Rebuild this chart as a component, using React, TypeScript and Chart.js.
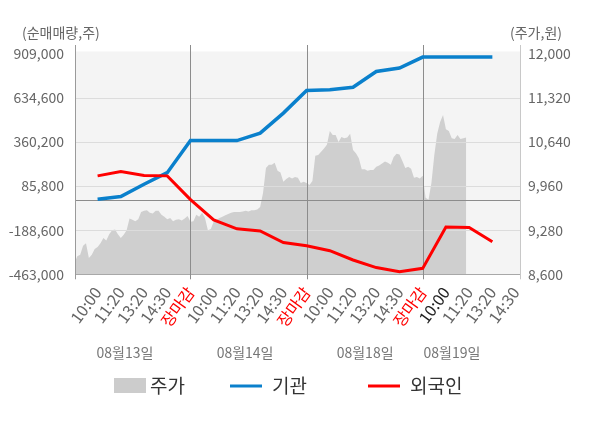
import React, { useEffect, useRef } from "react";
import { Chart, registerables } from "chart.js";

Chart.register(...registerables);

// ---- data ----
const timeLabels = [
  "10:00", "11:20", "13:20", "14:30", "장마감",
  "10:00", "11:20", "13:20", "14:30", "장마감",
  "10:00", "11:20", "13:20", "14:30", "장마감",
  "10:00", "11:20", "13:20", "14:30",
];
const tickUnits = [1, 2, 3, 4, 5, 6, 7, 8, 9, 10, 11, 12, 13, 14, 15, 16, 17, 18, 19];
const dayLabels = ["08월13일", "08월14일", "08월18일", "08월19일"];
const dayBoundaries = [5, 10, 15];

const leftTicks = [-463000, -188600, 85800, 360200, 634600, 909000];
const rightTicks = [8600, 9280, 9960, 10640, 11320, 12000];

// 기관 net volume at each labelled time
const instValues = [
  5000, 21000, 98000, 170000, 370000,
  370000, 370000, 416000, 541000, 682000,
  686000, 702000, 800000, 822000, 890000,
  890000, 890000, 890000,
];
// 외국인 net volume at each labelled time
const foreignValues = [
  150000, 177000, 153000, 150000, 2000,
  -124000, -180000, -193000, -265000, -285000,
  -316000, -374000, -421000, -447000, -426000,
  -168000, -171000, -260000,
];

// 주가 (price), sampled every 1/8 of a day-slot
const priceStep = 0.125;
const priceValues = [
  8770, 8880, 8900, 9040, 9080, 8850, 8900, 8990, 9020, 9080,
  9160, 9120, 9220, 9280, 9290, 9220, 9160, 9210, 9280, 9460,
  9440, 9420, 9450, 9560, 9580, 9590, 9550, 9540, 9580, 9580,
  9520, 9490, 9450, 9470, 9420, 9440, 9450, 9430, 9460, 9500,
  9410, 9420, 9520, 9490, 9550, 9470, 9280, 9300, 9410, 9440,
  9470, 9490, 9510, 9530, 9550, 9560, 9560, 9560, 9570, 9580,
  9570, 9590, 9590, 9600, 9640, 9860, 10240, 10290, 10290, 10320,
  10200, 10170, 10030, 10070, 10100, 10080, 10100, 10090, 10010, 10030,
  10010, 9980, 10040, 10430, 10440, 10490, 10540, 10600, 10810, 10750,
  10750, 10640, 10720, 10700, 10710, 10770, 10520, 10470, 10390, 10220,
  10220, 10200, 10210, 10210, 10260, 10280, 10310, 10340, 10320, 10290,
  10410, 10460, 10450, 10350, 10240, 10260, 10230, 10090, 10100, 10080,
  10120, 9780, 9750, 10010, 10440, 10770, 10950, 11060, 10840, 10810,
  10700, 10690, 10750, 10690, 10700, 10710,
];

// x positions (in day-slot units) of the date captions
const dayLabelAt = [2.18, 7.35, 12.52, 16.26];

const FONT = "'Noto Sans CJK KR', 'Noto Sans', sans-serif";

const decorPlugin = {
  id: "decor",
  beforeDraw(chart: any) {
    const { ctx, chartArea } = chart;
    ctx.save();
    ctx.fillStyle = "#f4f4f4";
    ctx.fillRect(chartArea.left, chartArea.top - 2.5, chartArea.right - chartArea.left, chartArea.bottom - chartArea.top + 2.5);
    ctx.restore();
  },
  afterDatasetDraw(chart: any, args: any) {
    if (args.index !== 0) return;
    const { ctx, chartArea, scales } = chart;
    const y = scales.y;
    const x = scales.x;
    ctx.save();
    ctx.lineWidth = 1;
    // horizontal grid
    ctx.strokeStyle = "#dcdcdc";
    leftTicks.forEach((t) => {
      if (t === leftTicks[0] || t === leftTicks[leftTicks.length - 1]) return;
      const py = Math.round(y.getPixelForValue(t)) + 0.5;
      ctx.beginPath();
      ctx.moveTo(chartArea.left, py);
      ctx.lineTo(chartArea.right, py);
      ctx.stroke();
    });
    // zero line
    ctx.strokeStyle = "#8c8c8c";
    const zy = Math.round(y.getPixelForValue(0)) + 0.5;
    ctx.beginPath();
    ctx.moveTo(chartArea.left, zy);
    ctx.lineTo(chartArea.right, zy);
    ctx.stroke();
    // bottom axis
    ctx.strokeStyle = "#a8a8a8";
    const by = Math.round(chartArea.bottom) + 0.5;
    ctx.beginPath();
    ctx.moveTo(chartArea.left, by);
    ctx.lineTo(chartArea.right, by);
    ctx.stroke();
    // vertical day boundaries
    const topY = chartArea.top - 9;
    const botY = chartArea.bottom + 5;
    ctx.strokeStyle = "#8c8c8c";
    dayBoundaries.forEach((d) => {
      const px = Math.round(x.getPixelForValue(d)) + 0.5;
      ctx.beginPath();
      ctx.moveTo(px, topY);
      ctx.lineTo(px, botY);
      ctx.stroke();
    });
    // left / right borders
    ctx.strokeStyle = "#9a9a9a";
    const lx = Math.round(chartArea.left) - 0.5;
    ctx.beginPath();
    ctx.moveTo(lx, topY);
    ctx.lineTo(lx, botY);
    ctx.stroke();
    ctx.strokeStyle = "#c8c8c8";
    const rx = Math.round(chartArea.right) + 0.5;
    ctx.beginPath();
    ctx.moveTo(rx, topY);
    ctx.lineTo(rx, botY);
    ctx.stroke();
    ctx.restore();
  },
  afterDraw(chart: any) {
    const { ctx, scales } = chart;
    const x = scales.x;
    ctx.save();
    ctx.textBaseline = "middle";
    // axis titles
    ctx.font = `14px ${FONT}`;
    ctx.fillStyle = "#666";
    ctx.textAlign = "left";
    ctx.fillText("(순매매량,주)", 22, 33);
    ctx.textAlign = "right";
    ctx.fillText("(주가,원)", 562, 33);
    // date captions
    ctx.fillStyle = "#777";
    ctx.textAlign = "center";
    dayLabels.forEach((d, i) => {
      ctx.fillText(d, x.getPixelForValue(dayLabelAt[i]), 353);
    });
    // legend
    const ly = 386;
    ctx.font = `19px ${FONT}`;
    ctx.textAlign = "left";
    ctx.fillStyle = "#cccccc";
    ctx.fillRect(114, ly - 8, 32, 15);
    ctx.fillStyle = "#333";
    ctx.fillText("주가", 150, ly);
    ctx.lineWidth = 3;
    ctx.strokeStyle = "#0a80cc";
    ctx.beginPath();
    ctx.moveTo(230, ly);
    ctx.lineTo(262, ly);
    ctx.stroke();
    ctx.fillText("기관", 272, ly);
    ctx.strokeStyle = "#ff0000";
    ctx.beginPath();
    ctx.moveTo(368, ly);
    ctx.lineTo(400, ly);
    ctx.stroke();
    ctx.fillText("외국인", 410, ly);
    ctx.restore();
  },
};

export default function App() {
  const ref = useRef<HTMLCanvasElement | null>(null);

  useEffect(() => {
    if (!ref.current) return;
    const priceData = priceValues.map((v, i) => ({ x: i * priceStep, y: v }));
    const instData = instValues.map((v, i) => ({ x: tickUnits[i], y: v }));
    const foreignData = foreignValues.map((v, i) => ({ x: tickUnits[i], y: v }));

    const chart = new Chart(ref.current, {
      type: "line",
      data: {
        datasets: [
          {
            label: "주가",
            data: priceData,
            yAxisID: "y1",
            borderWidth: 0,
            borderColor: "rgba(0,0,0,0)",
            backgroundColor: "#cfcfcf",
            fill: "start",
            pointRadius: 0,
            tension: 0,
            order: 3,
          },
          {
            label: "기관",
            data: instData,
            yAxisID: "y",
            borderColor: "#0a80cc",
            borderWidth: 3.5,
            pointRadius: 0,
            fill: false,
            tension: 0,
            order: 2,
          },
          {
            label: "외국인",
            data: foreignData,
            yAxisID: "y",
            borderColor: "#ff0000",
            borderWidth: 3,
            pointRadius: 0,
            fill: false,
            tension: 0,
            order: 1,
          },
        ],
      } as any,
      options: {
        animation: false,
        responsive: false,
        devicePixelRatio: 1,
        layout: { padding: { top: 54, left: 0, right: 0, bottom: 0 } },
        plugins: { legend: { display: false }, tooltip: { enabled: false } },
        scales: {
          x: {
            type: "linear",
            min: 0.07,
            max: 19.19,
            grid: { display: false, drawTicks: false },
            border: { display: false },
            afterBuildTicks: (s: any) => {
              s.ticks = tickUnits.map((v) => ({ value: v }));
            },
            afterFit: (s: any) => {
              s.height = 153.7;
            },
            ticks: {
              autoSkip: false,
              minRotation: 54,
              maxRotation: 54,
              padding: 9,
              font: { family: FONT, size: 16 },
              color: (c: any) =>
                timeLabels[c.index] === "장마감" ? "#ff0000" : c.index === 15 ? "#222" : "#666",
              callback: (_v: any, i: number) => timeLabels[i],
            },
          },
          y: {
            position: "left",
            min: leftTicks[0],
            max: leftTicks[leftTicks.length - 1],
            grid: { display: false, drawTicks: false },
            border: { display: false },
            afterBuildTicks: (s: any) => {
              s.ticks = leftTicks.map((v) => ({ value: v }));
            },
            afterFit: (s: any) => {
              s.width = 76;
            },
            ticks: {
              padding: 12,
              font: { family: FONT, size: 14 },
              color: "#666",
              callback: (v: any) => Number(v).toLocaleString("en-US"),
            },
          },
          y1: {
            position: "right",
            min: rightTicks[0],
            max: rightTicks[rightTicks.length - 1],
            grid: { display: false, drawTicks: false },
            border: { display: false },
            afterBuildTicks: (s: any) => {
              s.ticks = rightTicks.map((v) => ({ value: v }));
            },
            afterFit: (s: any) => {
              s.width = 80;
            },
            ticks: {
              padding: 8,
              font: { family: FONT, size: 14 },
              color: "#666",
              callback: (v: any) => Number(v).toLocaleString("en-US"),
            },
          },
        },
      } as any,
      plugins: [decorPlugin],
    });
    return () => chart.destroy();
  }, []);

  return (
    <div style={{ position: "absolute", left: 0, top: 0, width: 600, height: 428, background: "#fff" }}>
      <canvas ref={ref} width={600} height={428} style={{ display: "block", width: 600, height: 428 }} />
    </div>
  );
}
